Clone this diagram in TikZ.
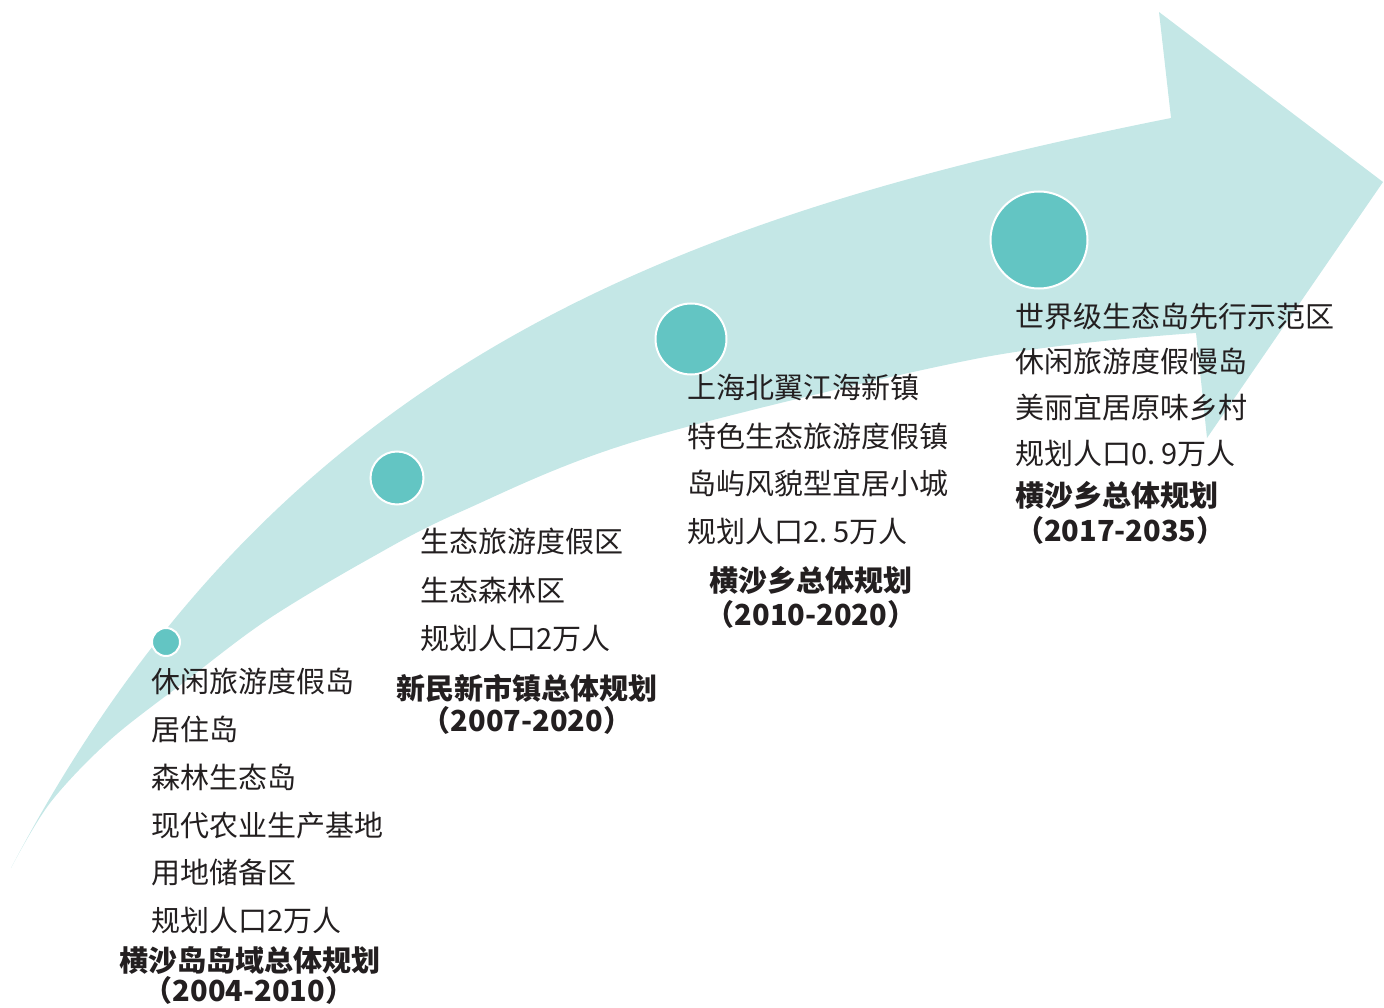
\documentclass[tikz,border=0pt]{standalone}
\usepackage{fontspec}
\setmainfont{Noto Sans CJK SC}
\definecolor{band}{HTML}{C4E7E6}
\definecolor{dot}{HTML}{63C5C3}
\definecolor{ink}{HTML}{231F20}
\begin{document}
\begin{tikzpicture}[x=1pt,y=-1pt,
  txt/.style={anchor=west, inner sep=0pt, text height=25.5pt, text depth=3.5pt,
    font=\fontsize{29}{29}\selectfont, text=ink},
  ttl/.style={txt, font=\fontsize{29}{29}\selectfont\bfseries},
  dotc/.style={circle, fill=dot, draw=white, line width=2pt, inner sep=0pt, minimum size=#1}]
\useasboundingbox (0,0) rectangle (1384,1008);
% arrow band
\fill[band] (11,868) .. controls (276,364) and (671,218) .. (1171,118)
  -- (1159,12) -- (1383,182) -- (1207,438) -- (1196,333)
  -- plot[smooth, tension=0.55] coordinates {(1196,333) (980,358) (640,440) (460,512) (367,560) (267,620) (187,680) (110,740) (50,803) (11,868)} -- cycle;
% dots
\node[dotc=28pt] (d1) at (166,642) {};
\node[dotc=53pt] (d2) at (397,478) {};
\node[dotc=71pt] (d3) at (691,339) {};
\node[dotc=97pt] (d4) at (1039,240) {};
% group 1
\node[txt] (a1) at (151,681) {休闲旅游度假岛};
\node[txt] (a2) at (151,729) {居住岛};
\node[txt] (a3) at (151,777) {森林生态岛};
\node[txt] (a4) at (151,825) {现代农业生产基地};
\node[txt] (a5) at (151,872) {用地储备区};
\node[txt] (a6) at (151,920) {规划人口2万人};
\node[ttl, anchor=center] (at) at (250,960) {横沙岛岛域总体规划};
\node[ttl, anchor=center] (ay) at (249,990) {（2004-2010）};
% group 2
\node[txt] (b1) at (420,541) {生态旅游度假区};
\node[txt] (b2) at (420,590) {生态森林区};
\node[txt] (b3) at (420,638) {规划人口2万人};
\node[ttl, anchor=center] (bt) at (527,688) {新民新市镇总体规划};
\node[ttl, anchor=center] (by) at (527,720) {（2007-2020）};
% group 3
\node[txt] (c1) at (687,387) {上海北翼江海新镇};
\node[txt] (c2) at (687,436) {特色生态旅游度假镇};
\node[txt] (c3) at (687,483) {岛屿风貌型宜居小城};
\node[txt] (c4) at (687,531) {规划人口2.\hspace{0.2em}5万人};
\node[ttl, anchor=center] (ct) at (811,580) {横沙乡总体规划};
\node[ttl, anchor=center] (cy) at (811,614) {（2010-2020）};
% group 4
\node[txt] (e1) at (1015,316) {世界级生态岛先行示范区};
\node[txt] (e2) at (1015,361) {休闲旅游度假慢岛};
\node[txt] (e3) at (1015,407) {美丽宜居原味乡村};
\node[txt] (e4) at (1015,453) {规划人口0.\hspace{0.2em}9万人};
\node[ttl] (et) at (1015,495) {横沙乡总体规划};
\node[ttl] (ey) at (1015,530) {（2017-2035）};
\end{tikzpicture}
\end{document}
